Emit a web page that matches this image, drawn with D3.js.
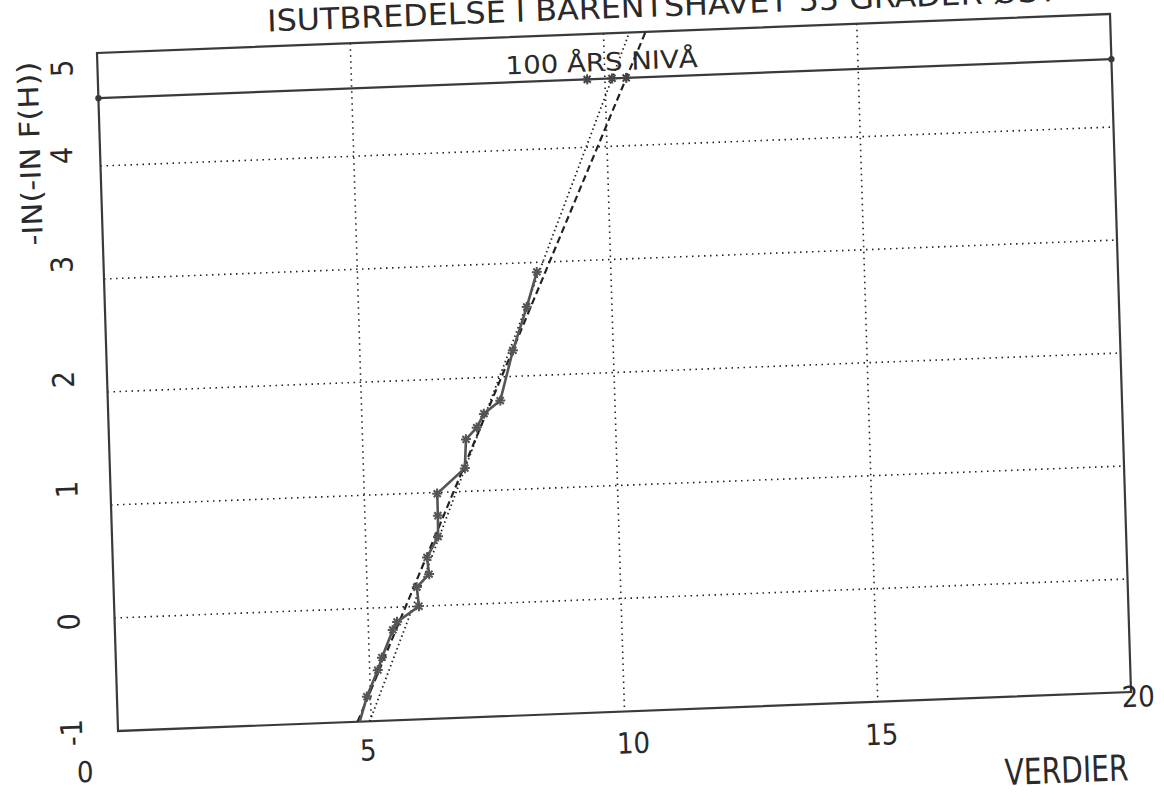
<!DOCTYPE html>
<html>
<head>
<meta charset="utf-8">
<script src="https://cdn.jsdelivr.net/npm/d3@7"></script>
<style>
  html, body { margin: 0; padding: 0; background: #fff; }
  svg { display: block; }
  text { font-family: "Liberation Sans Narrow", "DejaVu Sans Condensed", "Liberation Sans", sans-serif; fill: #2a2a2a; }
</style>
</head>
<body>
<svg id="chart" width="1164" height="808"></svg>
<script>
// Gumbel plot: ice extent in the Barents Sea, 55 degrees east
const titleText = "ISUTBREDELSE I BARENTSHAVET 55 GRADER ØST";
const xAxisTitle = "VERDIER";
const yAxisTitle = "-IN(-IN F(H))";
const levelLabel = "100 ÅRS NIVÅ";

const xTicks = [0, 5, 10, 15, 20];
const yTicks = [-1, 0, 1, 2, 3, 4, 5];
const xGrid = [5, 10, 15];
const yGrid = [0, 1, 2, 3, 4];

// observed values (sorted) and their reduced variate
const obsX = [4.70, 4.93, 5.16, 5.25, 5.48, 5.57, 6.01, 5.98, 6.23, 6.20, 6.43, 6.44, 6.44, 7.00, 7.04, 7.26, 7.41, 7.74, 8.02, 8.32, 8.54];
const obsY = [-1.10, -0.78, -0.55, -0.44, -0.20, -0.13, 0.00, 0.17, 0.28, 0.43, 0.61, 0.795, 0.99, 1.205, 1.46, 1.56, 1.68, 1.79, 2.23, 2.61, 2.915];

// fitted distribution lines (end points)
const fitDotted = [[4.97, -1], [10.51, 5]];
const fitDashed = [[4.73, -1], [10.83, 5]];

// 100-year return level and its estimates
const level100 = 4.6;
const level100Est = [9.65, 10.14, 10.42];

const W = 1013, H = 678;
const svg = d3.select("#chart");

// the plotted sheet sits slightly skewed on the page
const g = svg.append("g").attr("transform", "matrix(1,-0.0385,0.031,1,97,53)");

const x = d3.scaleLinear().domain([0, 20]).range([0, W]);
const y = d3.scaleLinear().domain([-1, 5]).range([H, 0]);

const ink = "#3a3a3a";

g.append("clipPath").attr("id", "plotClip")
  .append("rect").attr("x", 0).attr("y", -4).attr("width", W).attr("height", H + 4);

// dotted grid
g.append("g").selectAll("line.vg").data(xGrid).join("line")
  .attr("x1", d => x(d)).attr("x2", d => x(d)).attr("y1", 0).attr("y2", H)
  .attr("stroke", "#222").attr("stroke-width", 1.6).attr("stroke-dasharray", "1.5,4.5");
g.append("g").selectAll("line.hg").data(yGrid).join("line")
  .attr("x1", 0).attr("x2", W).attr("y1", d => y(d)).attr("y2", d => y(d))
  .attr("stroke", "#222").attr("stroke-width", 1.6).attr("stroke-dasharray", "1.5,4.5");

// frame
g.append("rect").attr("x", 0).attr("y", 0).attr("width", W).attr("height", H)
  .attr("fill", "none").attr("stroke", ink).attr("stroke-width", 2.2);

// 100-year level
g.append("line").attr("x1", x(0)).attr("x2", x(20)).attr("y1", y(level100)).attr("y2", y(level100))
  .attr("stroke", ink).attr("stroke-width", 2.2);
g.append("g").selectAll("circle").data([0, 20]).join("circle")
  .attr("cx", d => x(d)).attr("cy", y(level100)).attr("r", 3.2).attr("fill", ink);

const plot = g.append("g").attr("clip-path", "url(#plotClip)");
const line = d3.line().x(d => x(d[0])).y(d => y(d[1]));

plot.append("path").attr("d", line(fitDotted))
  .attr("fill", "none").attr("stroke", "#222").attr("stroke-width", 1.8).attr("stroke-dasharray", "1.5,3");
plot.append("path").attr("d", line(fitDashed))
  .attr("fill", "none").attr("stroke", "#222").attr("stroke-width", 2.2).attr("stroke-dasharray", "7,4");

const obs = obsX.map((v, i) => [v, obsY[i]]);
plot.append("path").attr("d", line(obs))
  .attr("fill", "none").attr("stroke", "#555").attr("stroke-width", 2.6);

// star markers
const star = "M-5,0L5,0M0,-5L0,5M-3.5,-3.5L3.5,3.5M-3.5,3.5L3.5,-3.5";
plot.append("g").selectAll("path").data(obs.slice(1)).join("path")
  .attr("transform", d => `translate(${x(d[0])},${y(d[1])})`)
  .attr("d", star).attr("stroke", "#555").attr("stroke-width", 2);
g.append("g").selectAll("path").data(level100Est).join("path")
  .attr("transform", d => `translate(${x(d)},${y(level100)})`)
  .attr("d", star).attr("stroke", "#444").attr("stroke-width", 2);

// label for the 100-year line
g.append("text").attr("x", x(8.05)).attr("y", y(level100) - 8)
  .attr("font-size", 25).attr("textLength", 192).attr("lengthAdjust", "spacingAndGlyphs")
  .text(levelLabel);

// x tick labels
const xNudge = [[-34, 50], [-4, 39], [8, 42], [3, 43], [7, 15]];
g.append("g").selectAll("text").data(xTicks).join("text")
  .attr("x", (d, i) => x(d) + xNudge[i][0]).attr("y", (d, i) => y(-1) + xNudge[i][1])
  .attr("text-anchor", "middle").attr("font-size", 29).text(d => d);

g.append("text").attr("x", x(18.68)).attr("y", y(-1) + 88)
  .attr("text-anchor", "middle").attr("font-size", 36)
  .attr("textLength", 124).attr("lengthAdjust", "spacingAndGlyphs").text(xAxisTitle);

// y tick labels (rotated)
const yNudge = [[-46, 0], [-45, 2], [-43, -17], [-43, -14], [-41, -16], [-38, -12], [-35, 14]];
g.append("g").selectAll("text").data(yTicks).join("text")
  .attr("transform", (d, i) => `translate(${yNudge[i][0] + 10},${y(d) + yNudge[i][1]}) rotate(-90)`)
  .attr("text-anchor", "middle").attr("font-size", 30).text(d => d);

g.append("text").attr("transform", `translate(-60,98) rotate(-90)`)
  .attr("text-anchor", "middle").attr("font-size", 28)
  .attr("textLength", 184).attr("lengthAdjust", "spacingAndGlyphs").text(yAxisTitle);

// title
g.append("text").attr("x", 171).attr("y", -15)
  .attr("font-size", 30).attr("textLength", 790).attr("lengthAdjust", "spacingAndGlyphs")
  .text(titleText);
</script>
</body>
</html>
